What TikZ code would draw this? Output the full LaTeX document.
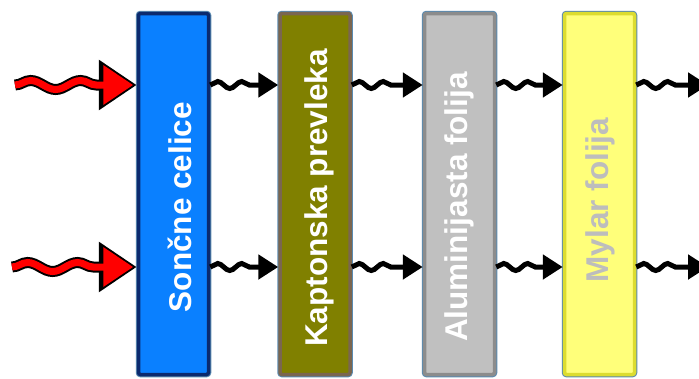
\documentclass[tikz,border=0pt]{standalone}
\usepackage{fontspec}
\setmainfont{Liberation Sans}
\usetikzlibrary{arrows.meta,decorations.pathmorphing}
\definecolor{cblue}{HTML}{0A80FF}
\definecolor{cblueb}{HTML}{0B2A6E}
\definecolor{colive}{HTML}{808000}
\definecolor{coliveb}{HTML}{7A6650}
\definecolor{cgrey}{HTML}{C0C0C0}
\definecolor{cgreyb}{HTML}{8C8C8C}
\definecolor{cyel}{HTML}{FFFF7A}
\definecolor{cyelb}{HTML}{DCDC30}
\definecolor{cedge}{HTML}{5A8AB0}
\definecolor{cmylar}{HTML}{BDBDBD}
\begin{document}
\begin{tikzpicture}[x=1pt,y=-1pt,
  layerbox/.style={rectangle, minimum width=70pt, minimum height=361pt,
    inner sep=0pt, line width=3.5pt, rounded corners=2pt,
    preaction={draw=cedge, line width=5.5pt}},
  lbl/.style={rotate=90, anchor=base, inner sep=0pt,
    font=\fontsize{31.5}{36}\selectfont\bfseries},
  redout/.style={draw=black, line width=11pt,
    decorate, decoration={snake, amplitude=4.5pt, segment length=50pt, post length=40pt},
    -{Triangle[length=38pt, width=48pt]}},
  redin/.style={draw=red, line width=7pt, shorten >=3.5pt,
    decorate, decoration={snake, amplitude=4.5pt, segment length=50pt, post length=40pt},
    -{Triangle[length=30pt, width=38pt]}},
  blackwave/.style={draw=black, line width=5pt,
    decorate, decoration={snake, amplitude=3.5pt, segment length=24pt, post length=24pt},
    -{Triangle[length=20pt, width=24pt]}}
]
\useasboundingbox (0,0) rectangle (699,378);
% boxes
\node[layerbox, fill=cblue, draw=cblueb] (b1) at (173.5,194) {};
\node[layerbox, fill=colive, draw=coliveb] (b2) at (315,194) {};
\node[layerbox, fill=cgrey, draw=cgreyb] (b3) at (459.5,194) {};
\node[layerbox, fill=cyel, draw=cyelb] (b4) at (599.5,194) {};
% labels
\node[lbl, text=white] (t1) at (191,207) {Sončne celice};
\node[lbl, text=white] (t2) at (327,198) {Kaptonska prevleka};
\node[lbl, text=white] (t3) at (467,207) {Aluminijasta folija};
\node[lbl, text=cmylar] (t4) at (608,200) {Mylar folija};
% rows
\coordinate (r1) at (0,85);
\coordinate (r2) at (0,267);
\coordinate (s1) at (15,85);
\coordinate (s2) at (12,267);
\coordinate (e1) at (708,85);
\coordinate (e2) at (708,267);
% red incoming arrows
\draw[redout] (s1) -- (b1.west |- r1);
\draw[redin] (s1) -- (b1.west |- r1);
\draw[redout] (s2) -- (b1.west |- r2);
\draw[redin] (s2) -- (b1.west |- r2);
% black arrows between layers
\draw[blackwave] (b1.east |- r1) -- (b2.west |- r1);
\draw[blackwave] (b2.east |- r1) -- (b3.west |- r1);
\draw[blackwave] (b3.east |- r1) -- (b4.west |- r1);
\draw[blackwave] (b4.east |- r1) -- (e1);
\draw[blackwave] (b1.east |- r2) -- (b2.west |- r2);
\draw[blackwave] (b2.east |- r2) -- (b3.west |- r2);
\draw[blackwave] (b3.east |- r2) -- (b4.west |- r2);
\draw[blackwave] (b4.east |- r2) -- (e2);
\end{tikzpicture}
\end{document}
